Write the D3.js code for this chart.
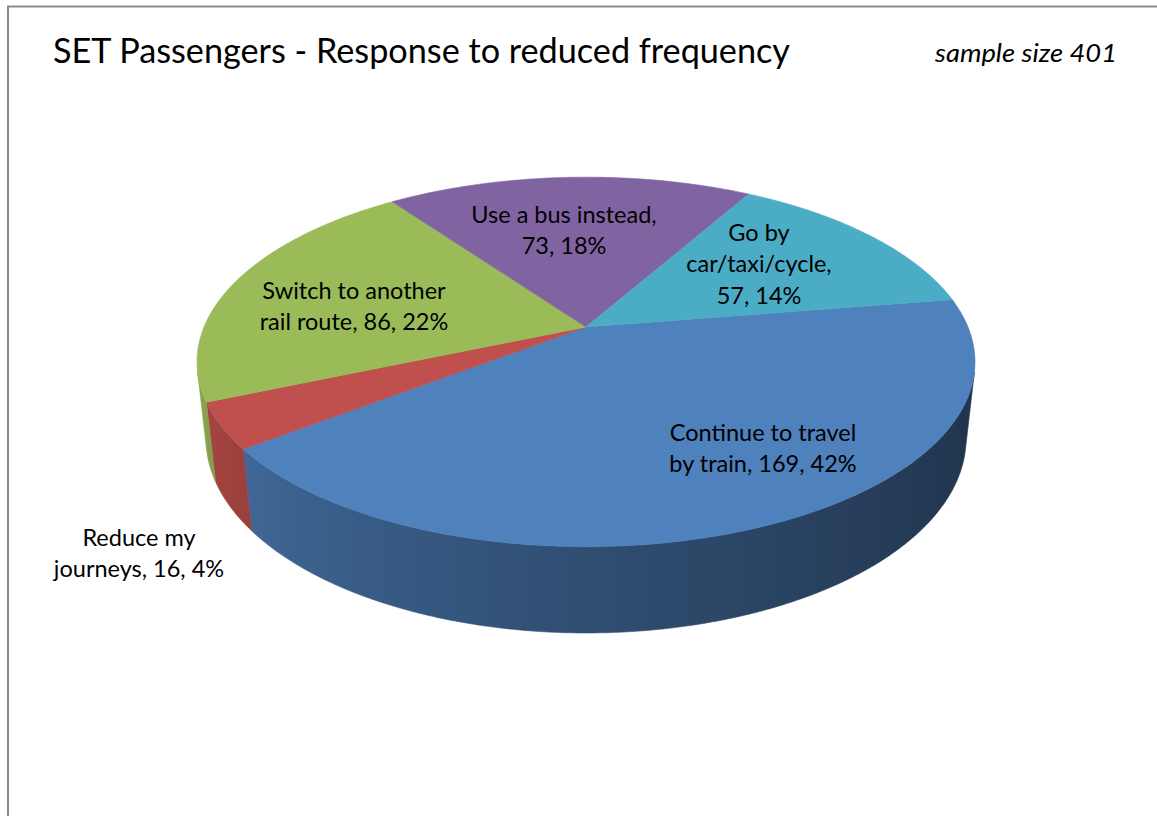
<!DOCTYPE html>
<html>
<head>
<meta charset="utf-8">
<script src="https://cdn.jsdelivr.net/npm/d3@7"></script>
<style>
  body { margin: 0; background: #fff; }
  svg { display: block; }
  text { font-family: Lato, "Open Sans", "Liberation Sans", sans-serif; fill: #000; }
</style>
</head>
<body>
<svg id="chart" width="1157" height="816"></svg>
<script>
// Survey responses, in slice order (clockwise)
const categories = [
  "Continue to travel by train",
  "Reduce my journeys",
  "Switch to another rail route",
  "Use a bus instead",
  "Go by car/taxi/cycle"
];
const values = [169, 16, 86, 73, 57];
const percentLabels = ["42%", "4%", "22%", "18%", "14%"];
// Category text as wrapped in the data labels
const labelLines = [
  ["Continue to travel", "by train"],
  ["Reduce my", "journeys"],
  ["Switch to another", "rail route"],
  ["Use a bus instead,"],
  ["Go by", "car/taxi/cycle,"]
];
const colors = ["#4f81bd", "#c0504d", "#9bbb59", "#8064a2", "#4bacc6"];

const titleText = "SET Passengers - Response to reduced frequency";
const sampleText = "sample size 401";

// ---- layout ----
const W = 1157, H = 816;
const svg = d3.select("#chart");
const defs = svg.append("defs");

// frame
svg.append("path")
  .attr("d", `M8,${H} L8,6.5 L${W},6.5`)
  .attr("fill", "none")
  .attr("stroke", "#8a8a8a")
  .attr("stroke-width", 2);

svg.append("text")
  .attr("x", 53).attr("y", 63)
  .attr("font-size", 35)
  .attr("textLength", 737).attr("lengthAdjust", "spacingAndGlyphs")
  .text(titleText);

svg.append("text")
  .attr("x", 1117).attr("y", 62)
  .attr("text-anchor", "end")
  .attr("font-size", 26)
  .attr("font-style", "italic")
  .attr("textLength", 182).attr("lengthAdjust", "spacingAndGlyphs")
  .text(sampleText);

// ---- 3D pie projection ----
const cx = 586, cy = 327;        // screen position of pie centre
const R = 382;                   // pie radius
const depth = 87;                // pie thickness
const tilt = 27.8 * Math.PI / 180;
const camDist = 1789;            // perspective distance
const startAngle = 80.9 * Math.PI / 180;

// angle a: clockwise from the far side of the pie; z: 0 = top face
function project(a, r, z) {
  const x = r * Math.sin(a), yp = -r * Math.cos(a);
  const v = yp * Math.sin(tilt) - z * Math.cos(tilt);
  const w = yp * Math.cos(tilt) + z * Math.sin(tilt);
  const s = camDist / (camDist - w);
  return [cx + s * x, cy + s * v];
}

const arcs = d3.pie().sort(null)
  .startAngle(startAngle)
  .endAngle(startAngle + 2 * Math.PI)(values);

// outer wall faces the camera between these two angles
const aRight = Math.acos(-R / (camDist * Math.cos(tilt)));
const aLeft = 2 * Math.PI - aRight;

function shade(a) {
  const t = Math.max(0, Math.min(1, (a - aRight) / (aLeft - aRight)));
  return 0.40 + 0.50 * Math.pow(t, 1.3);
}

function arcPoints(a0, a1, r, z) {
  const n = Math.max(2, Math.ceil(Math.abs(a1 - a0) / (0.5 * Math.PI / 180)));
  return d3.range(n + 1).map(i => project(a0 + (a1 - a0) * i / n, r, z));
}

const line = d3.line();
const gSide = svg.append("g");
const gTop = svg.append("g");

const xLeft = project(aLeft, R, 0)[0], xRight = project(aRight, R, 0)[0];

arcs.forEach((d, i) => {
  // visible part of the outer wall
  for (const k of [0, 1]) {
    const lo = aRight + k * 2 * Math.PI, hi = aLeft + k * 2 * Math.PI;
    const b0 = Math.max(d.startAngle, lo), b1 = Math.min(d.endAngle, hi);
    if (b1 <= b0) continue;
    const gid = `side${i}_${k}`;
    const grad = defs.append("linearGradient")
      .attr("id", gid)
      .attr("gradientUnits", "userSpaceOnUse")
      .attr("x1", xLeft).attr("x2", xRight).attr("y1", 0).attr("y2", 0);
    const base = d3.rgb(colors[i]);
    d3.range(31).forEach(j => {
      const a = aLeft - (aLeft - aRight) * j / 30;
      const x = project(a, R, 0)[0];
      const f = shade(a);
      grad.append("stop")
        .attr("offset", (x - xLeft) / (xRight - xLeft))
        .attr("stop-color", d3.rgb(base.r * f, base.g * f, base.b * f));
    });
    const pts = arcPoints(b0, b1, R, 0).concat(arcPoints(b1, b0, R, -depth));
    gSide.append("path")
      .attr("d", line(pts) + "Z")
      .attr("fill", `url(#${gid})`)
      .attr("stroke", `url(#${gid})`)
      .attr("stroke-width", 0.6);
  }
  // top face
  const top = [[cx, cy]].concat(arcPoints(d.startAngle, d.endAngle, R, 0));
  gTop.append("path")
    .attr("d", line(top) + "Z")
    .attr("fill", colors[i])
    .attr("stroke", colors[i])
    .attr("stroke-width", 0.6)
    .attr("stroke-linejoin", "round");
});

// ---- data labels ----
const labelAnchors = [[763, 441], [139, 546], [354, 299], [564, 223], [759, 241]];
const lineHeight = 31.3;

values.forEach((v, i) => {
  const lines = labelLines[i].slice();
  const tail = `${v}, ${percentLabels[i]}`;
  const last = lines[lines.length - 1];
  if (last.endsWith(",")) lines.push(tail);
  else lines[lines.length - 1] = `${last}, ${tail}`;
  const g = svg.append("text")
    .attr("class", "label")
    .attr("text-anchor", "middle")
    .attr("font-size", 23.5);
  lines.forEach((t, j) => {
    g.append("tspan")
      .attr("x", labelAnchors[i][0])
      .attr("y", labelAnchors[i][1] + j * lineHeight)
      .text(t);
  });
  g.append("title").text(categories[i]);
});
</script>
</body>
</html>
